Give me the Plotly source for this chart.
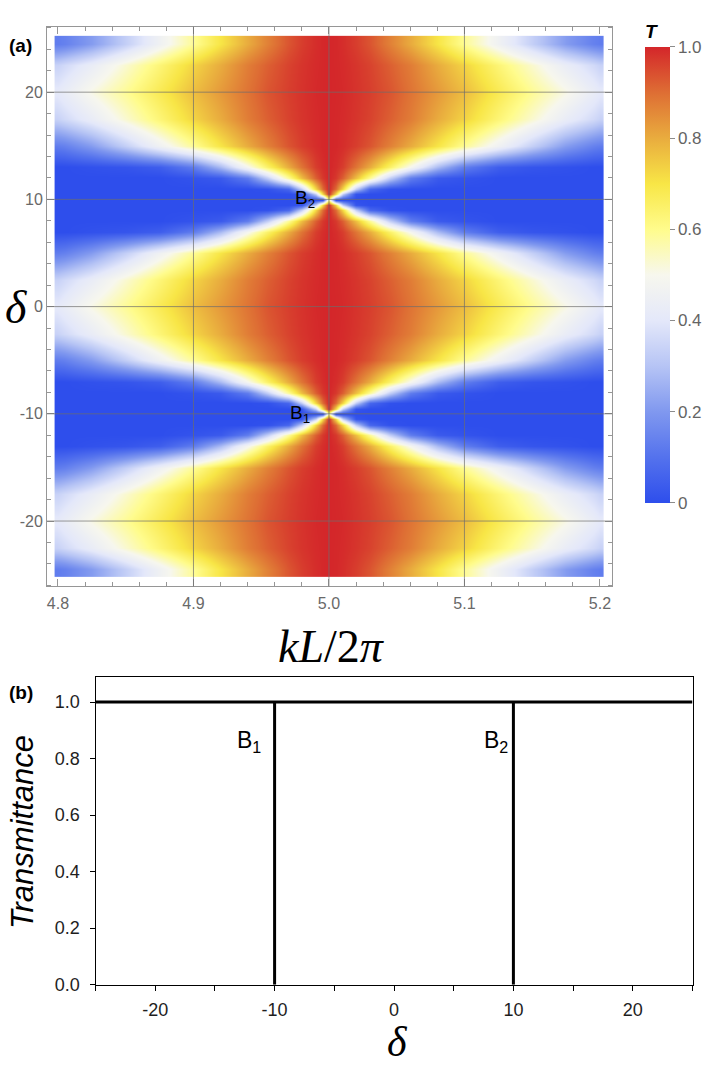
import plotly.graph_objects as go

# ---------------- Panel (a): T(kL/2pi, delta) ----------------
kL_over_2pi = [4.800, 4.805, 4.825, 4.850, 4.875, 4.900, 4.920, 4.940, 4.955, 4.970,
               4.980, 4.990, 4.995, 5.000, 5.005, 5.010, 5.020, 5.030, 5.045, 5.060,
               5.080, 5.100, 5.125, 5.150, 5.175, 5.195, 5.200]

delta_rows = [-25, -24.5, -22.5, -20, -17.5, -15, -13, -12, -11, -10.5, -10, -9.5, -9, -8,
              -7, -5, -2.5, 0, 2.5, 5, 7, 8, 9, 9.5, 10, 10.5, 11, 12, 13, 15, 17.5, 20,
              22.5, 24.5, 25]

# Transmittance profiles across kL/2pi, one per distance of delta from the nearest B point
T_dist_10 = [0.41, 0.43, 0.51, 0.59, 0.68, 0.77, 0.83, 0.89, 0.935, 0.966, 0.982, 0.995, 0.998, 1.00,
             0.998, 0.995, 0.982, 0.966, 0.935, 0.89, 0.83, 0.77, 0.68, 0.59, 0.51, 0.43, 0.41]
T_dist_7p5 = [0.34, 0.36, 0.43, 0.53, 0.63, 0.73, 0.80, 0.875, 0.92, 0.96, 0.979, 0.993, 0.997, 1.00,
              0.997, 0.993, 0.979, 0.96, 0.92, 0.875, 0.80, 0.73, 0.63, 0.53, 0.43, 0.36, 0.34]
T_dist_5 = [0.13, 0.14, 0.21, 0.33, 0.46, 0.59, 0.70, 0.80, 0.87, 0.935, 0.967, 0.989, 0.997, 1.00,
            0.997, 0.989, 0.967, 0.935, 0.87, 0.80, 0.70, 0.59, 0.46, 0.33, 0.21, 0.14, 0.13]
T_dist_3 = [0.00, 0.00, 0.01, 0.02, 0.045, 0.13, 0.28, 0.49, 0.65, 0.80, 0.89, 0.967, 0.989, 1.00,
            0.989, 0.967, 0.89, 0.80, 0.65, 0.49, 0.28, 0.13, 0.045, 0.02, 0.01, 0.00, 0.00]
T_dist_2 = [0.00, 0.00, 0.00, 0.00, 0.00, 0.015, 0.035, 0.13, 0.33, 0.59, 0.77, 0.92, 0.975, 1.00,
            0.975, 0.92, 0.77, 0.59, 0.33, 0.13, 0.035, 0.015, 0.00, 0.00, 0.00, 0.00, 0.00]
T_dist_1 = [0.00, 0.00, 0.00, 0.00, 0.00, 0.00, 0.00, 0.00, 0.01, 0.07, 0.33, 0.725, 0.905, 1.00,
            0.905, 0.725, 0.33, 0.07, 0.01, 0.00, 0.00, 0.00, 0.00, 0.00, 0.00, 0.00, 0.00]
T_dist_0p5 = [0.00, 0.00, 0.00, 0.00, 0.00, 0.00, 0.00, 0.00, 0.00, 0.00, 0.02, 0.33, 0.725, 1.00,
              0.725, 0.33, 0.02, 0.00, 0.00, 0.00, 0.00, 0.00, 0.00, 0.00, 0.00, 0.00, 0.00]
T_dist_0 = [0.00, 0.00, 0.00, 0.00, 0.00, 0.00, 0.00, 0.00, 0.00, 0.00, 0.00, 0.00, 0.00, 0.60,
            0.00, 0.00, 0.00, 0.00, 0.00, 0.00, 0.00, 0.00, 0.00, 0.00, 0.00, 0.00, 0.00]

T_map = [T_dist_5, T_dist_5, T_dist_7p5, T_dist_10, T_dist_7p5, T_dist_5, T_dist_3, T_dist_2,
         T_dist_1, T_dist_0p5, T_dist_0, T_dist_0p5, T_dist_1, T_dist_2, T_dist_3, T_dist_5,
         T_dist_7p5, T_dist_10, T_dist_7p5, T_dist_5, T_dist_3, T_dist_2, T_dist_1, T_dist_0p5,
         T_dist_0, T_dist_0p5, T_dist_1, T_dist_2, T_dist_3, T_dist_5, T_dist_7p5, T_dist_10,
         T_dist_7p5, T_dist_5, T_dist_5]

a_xticks = [4.8, 4.9, 5.0, 5.1, 5.2]
a_xticktext = ["4.8", "4.9", "5.0", "5.1", "5.2"]
a_yticks = [-20, -10, 0, 10, 20]
a_yticktext = ["-20", "-10", "0", "10", "20"]
cb_ticks = [0, 0.2, 0.4, 0.6, 0.8, 1.0]
cb_ticktext = ["0", "0.2", "0.4", "0.6", "0.8", "1.0"]

# B points in panel (a)
B_labels = ["B<sub>1</sub>", "B<sub>2</sub>"]
B_kL = [5.0, 5.0]
B_delta = [-10, 10]

# ---------------- Panel (b): transmittance at kL/2pi = 5 ----------------
delta_b = [-25, -10, -10, -10, 10, 10, 10, 25]
T_b = [1, 1, 0, 1, 1, 0, 1, 1]
b_xticks = [-20, -10, 0, 10, 20]
b_xticktext = ["-20", "-10", "0", "10", "20"]
b_yticks = [0.0, 0.2, 0.4, 0.6, 0.8, 1.0]
b_yticktext = ["0.0", "0.2", "0.4", "0.6", "0.8", "1.0"]

colorscale = [
    [0.0, "rgb(46,78,236)"],
    [0.1, "rgb(84,114,237)"],
    [0.2, "rgb(128,152,239)"],
    [0.3, "rgb(182,196,245)"],
    [0.4, "rgb(228,232,250)"],
    [0.5, "rgb(247,247,238)"],
    [0.6, "rgb(255,252,140)"],
    [0.7, "rgb(248,230,70)"],
    [0.8, "rgb(233,172,62)"],
    [0.9, "rgb(222,110,52)"],
    [1.0, "rgb(212,38,42)"],
]

W, H = 706, 1066
def px_x(p):
    return p / W
def px_y(p):
    return 1 - p / H

fig = go.Figure()

fig.add_trace(go.Heatmap(
    x=kL_over_2pi, y=delta_rows, z=T_map, zmin=0, zmax=1,
    colorscale=colorscale, zsmooth="best", xaxis="x", yaxis="y",
    hoverinfo="skip",
    colorbar=dict(
        x=px_x(645), xanchor="left", xpad=0,
        y=px_y(21), yanchor="top", ypad=0,
        len=487 / H, lenmode="fraction", thickness=25,
        outlinewidth=0,
        tickvals=cb_ticks, ticktext=cb_ticktext,
        ticks="outside", ticklen=5, tickcolor="rgb(140,140,140)",
        tickfont=dict(family="Liberation Sans", size=17, color="rgb(100,100,100)"),
        title=dict(text="<b><i>T</i></b>", side="top",
                   font=dict(family="Liberation Sans", size=19, color="black")),
    ),
))

fig.add_trace(go.Scatter(
    x=delta_b, y=T_b, mode="lines", xaxis="x2", yaxis="y2",
    line=dict(color="black", width=3), hoverinfo="skip", showlegend=False,
))

frame_gray = "rgb(150,150,150)"
tick_font_a = dict(family="Liberation Sans", size=16, color="rgb(105,105,105)")
tick_font_b = dict(family="Liberation Sans", size=18, color="rgb(30,30,30)")

layout = dict(
    width=W, height=H, margin=dict(l=0, r=0, t=0, b=0),
    paper_bgcolor="white", plot_bgcolor="white", showlegend=False,
    xaxis=dict(
        domain=[px_x(47), px_x(612)], range=[4.7919, 5.2089], anchor="y",
        tickvals=a_xticks, ticktext=a_xticktext, tickfont=tick_font_a,
        ticks="inside", ticklen=7, tickcolor=frame_gray, tickwidth=1,
        showline=True, linecolor=frame_gray, linewidth=1, mirror="ticks",
        showgrid=False, zeroline=False, ticklabelstandoff=2,
        minor=dict(ticks="inside", ticklen=4, dtick=0.02, tick0=4.8, tickcolor=frame_gray, showgrid=False),
    ),
    yaxis=dict(
        domain=[px_y(592), px_y(27)], range=[-26.1, 26.1], anchor="x",
        tickvals=a_yticks, ticktext=a_yticktext, tickfont=tick_font_a,
        ticks="inside", ticklen=7, tickcolor=frame_gray, tickwidth=1,
        showline=True, linecolor=frame_gray, linewidth=1, mirror="ticks",
        showgrid=False, zeroline=False,
        minor=dict(ticks="inside", ticklen=4, dtick=2, tick0=0, tickcolor=frame_gray, showgrid=False),
    ),
    xaxis2=dict(
        domain=[px_x(95.5), px_x(692.5)], range=[-25, 25], anchor="y2",
        tickvals=b_xticks, ticktext=b_xticktext, tickfont=tick_font_b,
        ticks="outside", ticklen=5, tickcolor="black",
        showline=True, linecolor="black", linewidth=1, mirror=True,
        showgrid=False, zeroline=False, ticklabelstandoff=4,
        minor=dict(ticks="outside", ticklen=5, dtick=5, tick0=0, tickcolor="black", showgrid=False),
    ),
    yaxis2=dict(
        domain=[px_y(994), px_y(683)], range=[0, 1.09], anchor="x2",
        tickvals=b_yticks, ticktext=b_yticktext, tickfont=tick_font_b,
        ticks="outside", ticklen=5, tickcolor="black",
        showline=True, linecolor="black", linewidth=1, mirror=True,
        showgrid=False, zeroline=False, ticklabelstandoff=6,
    ),
)
fig.update_layout(**layout)

# grid lines drawn above the density map (as in the original frame style)
grid_col = "rgba(110,110,110,0.7)"
shapes = []
for v in a_xticks[1:-1]:
    shapes.append(dict(type="line", xref="x", yref="y domain", x0=v, x1=v, y0=0, y1=1,
                       line=dict(color=grid_col, width=1), layer="above"))
for v in a_yticks:
    shapes.append(dict(type="line", xref="x domain", yref="y", x0=0, x1=1, y0=v, y1=v,
                       line=dict(color=grid_col, width=1), layer="above"))
fig.update_layout(shapes=shapes)

ann = []
# panel letters
ann.append(dict(text="<b>(a)</b>", x=px_x(7), y=px_y(46), xref="paper", yref="paper",
                xanchor="left", yanchor="middle", showarrow=False,
                font=dict(family="Liberation Sans", size=19, color="black")))
ann.append(dict(text="<b>(b)</b>", x=px_x(7), y=px_y(699), xref="paper", yref="paper",
                xanchor="left", yanchor="middle", showarrow=False,
                font=dict(family="Liberation Sans", size=19, color="black")))
# axis titles
ann.append(dict(text="<i>δ</i>", x=px_x(16), y=px_y(310), xref="paper", yref="paper",
                xanchor="center", yanchor="middle", showarrow=False,
                font=dict(family="Liberation Serif", size=46, color="black")))
ann.append(dict(text="<i>kL</i>/2<i>π</i>", x=px_x(331), y=px_y(653), xref="paper", yref="paper",
                xanchor="center", yanchor="middle", showarrow=False,
                font=dict(family="Liberation Serif", size=46, color="black")))
ann.append(dict(text="<i>Transmittance</i>", x=px_x(22), y=px_y(840), xref="paper", yref="paper",
                xanchor="center", yanchor="middle", showarrow=False, textangle=-90,
                font=dict(family="Liberation Sans", size=31, color="black")))
ann.append(dict(text="<i>δ</i>", x=px_x(397), y=px_y(1052), xref="paper", yref="paper",
                xanchor="center", yanchor="middle", showarrow=False,
                font=dict(family="Liberation Serif", size=42, color="black")))
# B labels panel (a)
for lab, xv, yv, sh in zip(B_labels, B_kL, B_delta, [-17, -12]):
    ann.append(dict(text=lab, x=xv, y=yv, xref="x", yref="y", xanchor="right", yanchor="middle",
                    xshift=sh, showarrow=False,
                    font=dict(family="Liberation Sans", size=19, color="black")))
# B labels panel (b)
for lab, xv, sh in zip(B_labels, [-10, 10], [-12, -3]):
    ann.append(dict(text=lab, x=xv, y=0.86, xref="x2", yref="y2", xanchor="right", yanchor="middle",
                    xshift=sh, showarrow=False,
                    font=dict(family="Liberation Sans", size=23, color="black")))
fig.update_layout(annotations=ann)

fig.write_html("out.html", include_plotlyjs=True, config={"displayModeBar": False})
